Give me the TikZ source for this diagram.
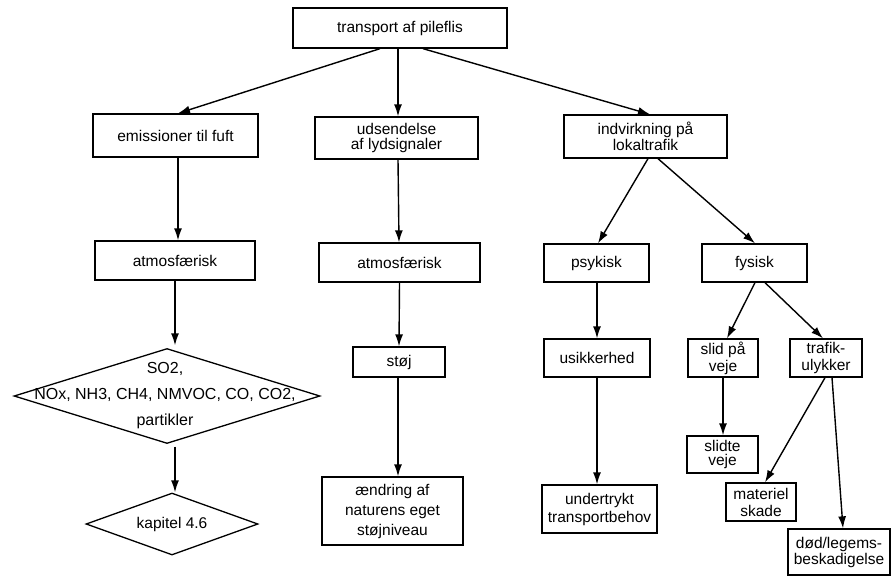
\documentclass[tikz,border=0pt]{standalone}
\usepackage{fontspec}
\setmainfont{Liberation Sans}
\usetikzlibrary{arrows.meta,shapes.geometric}
\begin{document}
\begin{tikzpicture}[x=1pt,y=-1pt,
  box/.style={draw,line width=1.3pt,rectangle,inner sep=0pt,align=center,
    font=\fontsize{15.5}{16}\selectfont},
  dia/.style={draw,line width=1.3pt,diamond,inner sep=0pt},
  arr/.style={draw,line width=1.4pt,-{Latex[length=12pt,width=8pt]}},
  lbl/.style={inner sep=0pt,align=center,font=\fontsize{15.5}{16}\selectfont},
]
\useasboundingbox (0,0) rectangle (891,576);

% root
\node[box,minimum width=214pt,minimum height=40pt] (top) at (400,28) {transport af pileflis};

% left branch: air emissions
\node[box,minimum width=165pt,minimum height=43pt] (emis) at (175.5,135.5) {emissioner til fuft};
\node[box,minimum width=160pt,minimum height=39pt] (atmA) at (175,260.5) {atmosfærisk};
\node[dia,minimum width=306pt,minimum height=95pt] (d1) at (167,396) {};
\node[lbl,font=\fontsize{16}{26}\selectfont] (d1t) at (165,396) {SO2,\\NOx, NH3, CH4, NMVOC, CO, CO2,\\partikler};
\node[dia,minimum width=172pt,minimum height=62pt] (d2) at (172,524) {};
\node[lbl] (d2t) at (172,524) {kapitel 4.6};

% middle branch: sound signals
\node[box,minimum width=163pt,minimum height=42pt,font=\fontsize{15.5}{15}\selectfont] (uds) at (396.5,138) {udsendelse\\af lydsignaler};
\node[box,minimum width=161pt,minimum height=39pt] (atmB) at (399.5,262.5) {atmosfærisk};
\node[box,minimum width=92pt,minimum height=30pt] (stoej) at (399,362) {støj};
\node[box,minimum width=141pt,minimum height=68pt,font=\fontsize{15.5}{20}\selectfont] (aend) at (392.5,511) {ændring af\\naturens eget\\støjniveau};

% right branch: local traffic
\node[box,minimum width=163pt,minimum height=43pt] (indv) at (645.5,136.5) {indvirkning på\\lokaltrafik};
\node[box,minimum width=105pt,minimum height=38pt] (psyk) at (596.5,263) {psykisk};
\node[box,minimum width=105pt,minimum height=38pt] (fys) at (754.5,263) {fysisk};
\node[box,minimum width=106pt,minimum height=38pt] (usik) at (597,358) {usikkerhed};
\node[box,minimum width=115pt,minimum height=48pt,font=\fontsize{15.5}{18}\selectfont] (undt) at (599.5,509) {undertrykt\\transportbehov};
\node[box,minimum width=70pt,minimum height=38pt,font=\fontsize{15.5}{17}\selectfont] (slid) at (723,358) {slid på\\veje};
\node[box,minimum width=72pt,minimum height=38pt,font=\fontsize{15.5}{17}\selectfont] (trafik) at (826,358) {trafik-\\ulykker};
\node[box,minimum width=71pt,minimum height=37pt,font=\fontsize{15.5}{14}\selectfont] (slidte) at (722.5,454.5) {slidte\\veje};
\node[box,minimum width=70pt,minimum height=38pt,font=\fontsize{15.5}{17}\selectfont] (mat) at (761,502) {materiel\\skade};
\node[box,minimum width=102pt,minimum height=46pt] (doed) at (839,552) {død/legems-\\beskadigelse};

% connectors
\path[arr] ([xshift=-20pt]top.south) -- ([xshift=2.5pt]emis.north);
\path[arr] ([xshift=-2pt]top.south) -- ([xshift=1.5pt]uds.north);
\path[arr] ([xshift=23pt]top.south) -- ([xshift=4.5pt]indv.north);

\path[arr] ([xshift=2.5pt]emis.south) -- ([xshift=3pt]atmA.north);
\path[arr] (atmA.south) -- ([shift={(8pt,2.5pt)}]d1.north);
\path[arr] ([shift={(8pt,-2.5pt)}]d1.south) -- ([xshift=3pt]d2.north);

\path[arr] ([xshift=1.5pt]uds.south) -- ([xshift=-0.5pt]atmB.north);
\path[arr] (atmB.south) -- (stoej.north);
\path[arr] ([xshift=-1pt]stoej.south) -- ([xshift=5.5pt]aend.north);

\path[arr] ([xshift=2.5pt]indv.south) -- ([xshift=1.5pt]psyk.north);
\path[arr] ([xshift=12.5pt]indv.south) -- ([xshift=0.5pt]fys.north);
\path[arr] ([xshift=0.5pt]psyk.south) -- (usik.north);
\path[arr] (usik.south) -- ([xshift=-2.5pt]undt.north);
\path[arr] ([xshift=0.5pt]fys.south) -- ([xshift=4pt]slid.north);
\path[arr] ([xshift=10.5pt]fys.south) -- ([xshift=-3pt]trafik.north);
\path[arr] (slid.south) -- ([xshift=0.5pt]slidte.north);
\path[arr] ([xshift=-1pt]trafik.south) -- ([xshift=4pt]mat.north);
\path[arr] ([xshift=6pt]trafik.south) -- ([xshift=4pt]doed.north);
\end{tikzpicture}
\end{document}
